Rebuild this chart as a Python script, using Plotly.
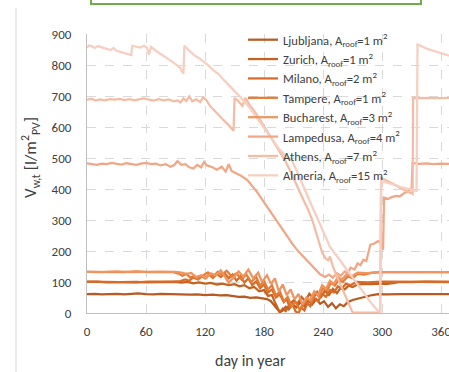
import plotly.graph_objects as go

# ---- data (day in year, V_w,t in l/m2_PV) ----
ljubljana = [(0,61),(8,62),(15,60),(22,61),(30,62),(38,60),(45,61),(52,63),(60,61),(68,60),
             (75,62),(82,61),(90,60),(98,61),(105,59),(112,60),(120,58),(128,59),(135,57),(142,58),
             (148,55),(154,52),(160,53),(166,49),(172,50),(178,47),(183,45),(187,38),(190,25),(193,12),
             (196,3),(199,8),(202,20),(205,12),(209,28),(213,18),(217,35),(221,22),(225,40),(229,28),
             (233,45),(237,30),(241,38),(245,20),(249,32),(253,15),(257,28),(261,22),(265,35),(270,42),
             (275,46),(280,50),(285,55),(290,58),(296,61),(305,60),(320,61),(335,60),(350,61),(368,61)]

zurich = [(0,100),(10,101),(20,99),(30,100),(40,101),(50,100),(60,99),(70,100),(80,101),(90,100),
          (96,98),(102,100),(108,96),(114,99),(120,95),(126,97),(132,92),(138,95),(144,90),(150,93),
          (155,86),(160,90),(165,80),(170,84),(175,70),(180,74),(184,55),(188,58),(191,35),(194,15),
          (196,2),(199,14),(202,6),(206,28),(210,40),(214,30),(218,52),(222,38),(226,62),(230,48),
          (234,68),(238,52),(242,72),(246,58),(250,78),(254,64),(258,82),(262,76),(266,88),(270,84),
          (275,92),(282,94),(290,93),(298,95),(305,94),(311,96),(318,100),(330,100),(345,101),(368,100)]

milano = [(0,101),(12,100),(25,101),(38,100),(50,99),(62,101),(75,100),(88,101),(95,103),(100,108),
          (104,104),(108,115),(112,109),(116,120),(120,112),(124,124),(128,113),(132,126),(136,116),(140,128),
          (144,112),(148,124),(152,104),(156,118),(160,98),(164,112),(168,90),(172,102),(176,80),(180,92),
          (184,66),(188,76),(192,50),(196,60),(200,35),(203,45),(206,18),(209,28),(212,5),(215,0),
          (218,18),(221,8),(224,32),(227,22),(231,48),(235,38),(239,62),(243,52),(247,74),(251,66),
          (255,86),(259,78),(263,94),(268,90),(274,100),(285,99),(300,101),(320,100),(345,100),(368,100)]

tampere = [(0,133),(12,132),(25,133),(38,132),(50,134),(62,132),(75,133),(88,132),(93,127),(97,120),
           (101,126),(105,114),(109,119),(113,108),(118,121),(123,131),(128,117),(133,133),(137,124),(142,136),
           (147,118),(152,128),(157,108),(162,124),(167,100),(172,116),(176,88),(180,104),(184,75),(188,90),
           (192,56),(196,70),(200,38),(204,52),(208,22),(212,36),(216,12),(220,28),(224,46),(228,36),
           (232,66),(236,52),(240,82),(244,72),(248,98),(252,88),(256,108),(260,100),(265,118),(270,112),
           (275,126),(282,124),(290,130),(300,132),(320,133),(345,132),(368,132)]

bucharest = [(0,133),(15,132),(30,134),(45,132),(60,133),(75,132),(90,133),(96,130),(101,126),(106,129),
             (111,116),(116,122),(121,112),(126,128),(131,122),(136,138),(140,120),(144,98),(149,114),(154,134),
             (159,118),(164,140),(169,112),(174,130),(178,100),(183,122),(187,94),(191,112),(195,70),(199,92),
             (203,58),(207,76),(211,44),(215,62),(219,28),(223,50),(227,42),(231,70),(235,58),(239,90),
             (243,78),(247,104),(251,94),(255,116),(259,108),(264,124),(269,118),(275,130),(285,129),(300,132),
             (325,132),(350,133),(368,132)]

lampedusa = [(0,483),(5,480),(10,478),(15,482),(20,480),(25,484),(30,481),(35,479),(40,483),(45,481),
             (50,478),(55,482),(60,484),(65,480),(70,482),(75,476),(80,480),(85,472),(89,478),(92,490),
             (96,478),(100,480),(104,470),(108,466),(112,478),(116,470),(119,487),(122,476),(127,471),(132,462),
             (137,472),(141,456),(144,480),(147,458),(152,450),(157,442),(163,429),(168,410),(173,390),(179,362),
             (185,334),(191,305),(197,278),(203,250),(209,222),(215,198),(221,178),(227,160),(232,140),(237,125),
             (242,116),(246,124),(250,114),(254,128),(258,120),(262,134),(265,128),(268,146),(272,140),(275,160),
             (278,154),(281,172),(284,168),(286,198),(288,220),(292,224),(296,232),(299,226),(301,204),(302,372),
             (306,368),(310,374),(314,378),(318,376),(322,386),(326,392),(330,402),(331,484),(338,481),(345,483),
             (352,480),(360,482),(368,481)]

athens = [(0,688),(5,691),(9,685),(13,689),(18,686),(23,690),(28,688),(33,691),(38,687),(43,690),
          (48,686),(53,690),(58,692),(63,688),(68,685),(73,690),(78,686),(83,689),(88,683),(92,686),
          (95,679),(98,692),(101,684),(104,699),(107,683),(111,689),(115,680),(118,696),(121,688),(125,668),
          (129,654),(134,638),(139,622),(144,606),(149,588),(150,694),(154,683),(158,668),(161,694),(165,672),
          (170,652),(175,628),(180,602),(185,575),(190,548),(195,522),(201,494),(206,462),(211,426),(216,392),
          (221,358),(225,332),(229,300),(233,258),(236,226),(239,196),(242,178),(245,170),(247,182),(250,150),
          (254,118),(258,88),(262,58),(266,28),(270,2),(280,1),(290,2),(298,1),(299,436),(303,430),
          (308,422),(313,414),(318,404),(323,396),(328,388),(331,384),(331.5,694),(340,693),(350,694),(360,693),
          (368,694)]

almeria = [(0,856),(2,863),(5,860),(8,855),(11,861),(15,856),(20,852),(24,848),(27,855),(30,846),
           (34,842),(38,838),(42,836),(45,832),(46,862),(50,859),(54,856),(58,862),(61,855),(63,833),
           (65,858),(70,846),(75,836),(80,826),(85,814),(90,803),(95,790),(98,772),(99,862),(104,846),
           (109,832),(114,822),(119,810),(124,797),(129,782),(134,770),(139,752),(144,734),(149,719),(155,700),
           (160,682),(165,664),(170,642),(175,620),(180,596),(185,574),(189,556),(195,530),(201,510),(208,494),
           (215,446),(222,392),(229,342),(235,300),(241,256),(247,213),(254,184),(260,158),(266,130),(272,104),
           (278,78),(284,52),(290,28),(295,10),(298,1),(299,426),(304,422),(309,416),(314,412),(320,405),
           (326,400),(331,397),(335,394),(336,866),(340,860),(346,852),(352,846),(358,840),(364,834),(368,830)]

series_names = ["Ljubljana, A<sub>roof</sub>=1 m<sup>2</sup>",
                "Zurich, A<sub>roof</sub>=1 m<sup>2</sup>",
                "Milano, A<sub>roof</sub>=2 m<sup>2</sup>",
                "Tampere, A<sub>roof</sub>=1 m<sup>2</sup>",
                "Bucharest, A<sub>roof</sub>=3 m<sup>2</sup>",
                "Lampedusa, A<sub>roof</sub>=4 m<sup>2</sup>",
                "Athens, A<sub>roof</sub>=7 m<sup>2</sup>",
                "Almeria, A<sub>roof</sub>=15 m<sup>2</sup>"]
series_data = [ljubljana, zurich, milano, tampere, bucharest, lampedusa, athens, almeria]
series_colors = ["#B85A22", "#C4621F", "#D76B27", "#E97C34", "#EE9561", "#F1A685", "#F4BCA4", "#F7CEBF"]

x_ticks = [0, 60, 120, 180, 240, 300, 360]

FONT = "Carlito, Calibri, Lato, sans-serif"
TXT = "#404040"

fig = go.Figure()
for name, data, col in zip(series_names, series_data, series_colors):
    fig.add_trace(go.Scatter(
        x=[d for d, _ in data], y=[v for _, v in data], name=name,
        mode="lines", line=dict(color=col, width=2.25)))

# body margin is removed by the post script, so figure pixel = screen pixel
W, H = 449, 372
L, R, T, B = 87, 0, 34, 372 - 313
pw, ph = W - L - R, H - T - B

def px(sx):
    return (sx - L) / pw

def py(sy):
    return (H - B - sy) / ph

fig.update_layout(
    width=W, height=H,
    margin=dict(l=L, r=R, t=T, b=B, autoexpand=False),
    paper_bgcolor="white", plot_bgcolor="white",
    font=dict(family=FONT, color=TXT, size=13),
    showlegend=True,
    legend=dict(x=px(243), y=py(25), xanchor="left", yanchor="top",
                bgcolor="rgba(0,0,0,0)", borderwidth=0, tracegroupgap=0,
                font=dict(family=FONT, size=12.6, color=TXT)),
    xaxis=dict(range=[0, 368], tickvals=x_ticks, ticktext=[str(t) for t in x_ticks],
               showgrid=True, gridcolor="#D9D9D9", griddash="dash", gridwidth=1,
               showline=True, linecolor="#BFBFBF", linewidth=1, zeroline=False,
               ticks="outside", ticklen=6, tickcolor="rgba(0,0,0,0)", automargin=False,
               tickfont=dict(size=13, family=FONT, color=TXT), ticklabeloverflow="allow"),
    yaxis=dict(range=[0, 900], dtick=100, tick0=0,
               showgrid=True, gridcolor="#D9D9D9", griddash="dash", gridwidth=1,
               showline=True, linecolor="#BFBFBF", linewidth=1, zeroline=False,
               ticks="outside", ticklen=12, tickcolor="rgba(0,0,0,0)", automargin=False,
               tickfont=dict(size=13, family=FONT, color=TXT)),
    annotations=[
        dict(text="V<sub>w,t</sub> [l/m<sup>2</sup><sub>PV</sub>]", xref="paper", yref="paper",
             x=px(30), y=py(158), textangle=-90, showarrow=False,
             xanchor="center", yanchor="middle", font=dict(size=17, family=FONT, color=TXT)),
        dict(text="day in year", xref="paper", yref="paper",
             x=px(250), y=py(360), showarrow=False,
             xanchor="center", yanchor="middle", font=dict(size=16, family=FONT, color=TXT)),
    ],
    shapes=[
        dict(type="rect", xref="paper", yref="paper", x0=px(91), x1=px(421), y0=py(4), y1=py(-20),
             line=dict(color="#70AD47", width=2), fillcolor="rgba(0,0,0,0)", layer="above"),
        dict(type="line", xref="paper", yref="paper", x0=px(16), x1=px(16), y0=py(8), y1=py(380),
             line=dict(color="#D9D9D9", width=1)),
    ],
)

fig.write_html("out.html", config={"displayModeBar": False},
               post_script="document.body.style.margin='0';document.body.style.overflow='hidden';")
